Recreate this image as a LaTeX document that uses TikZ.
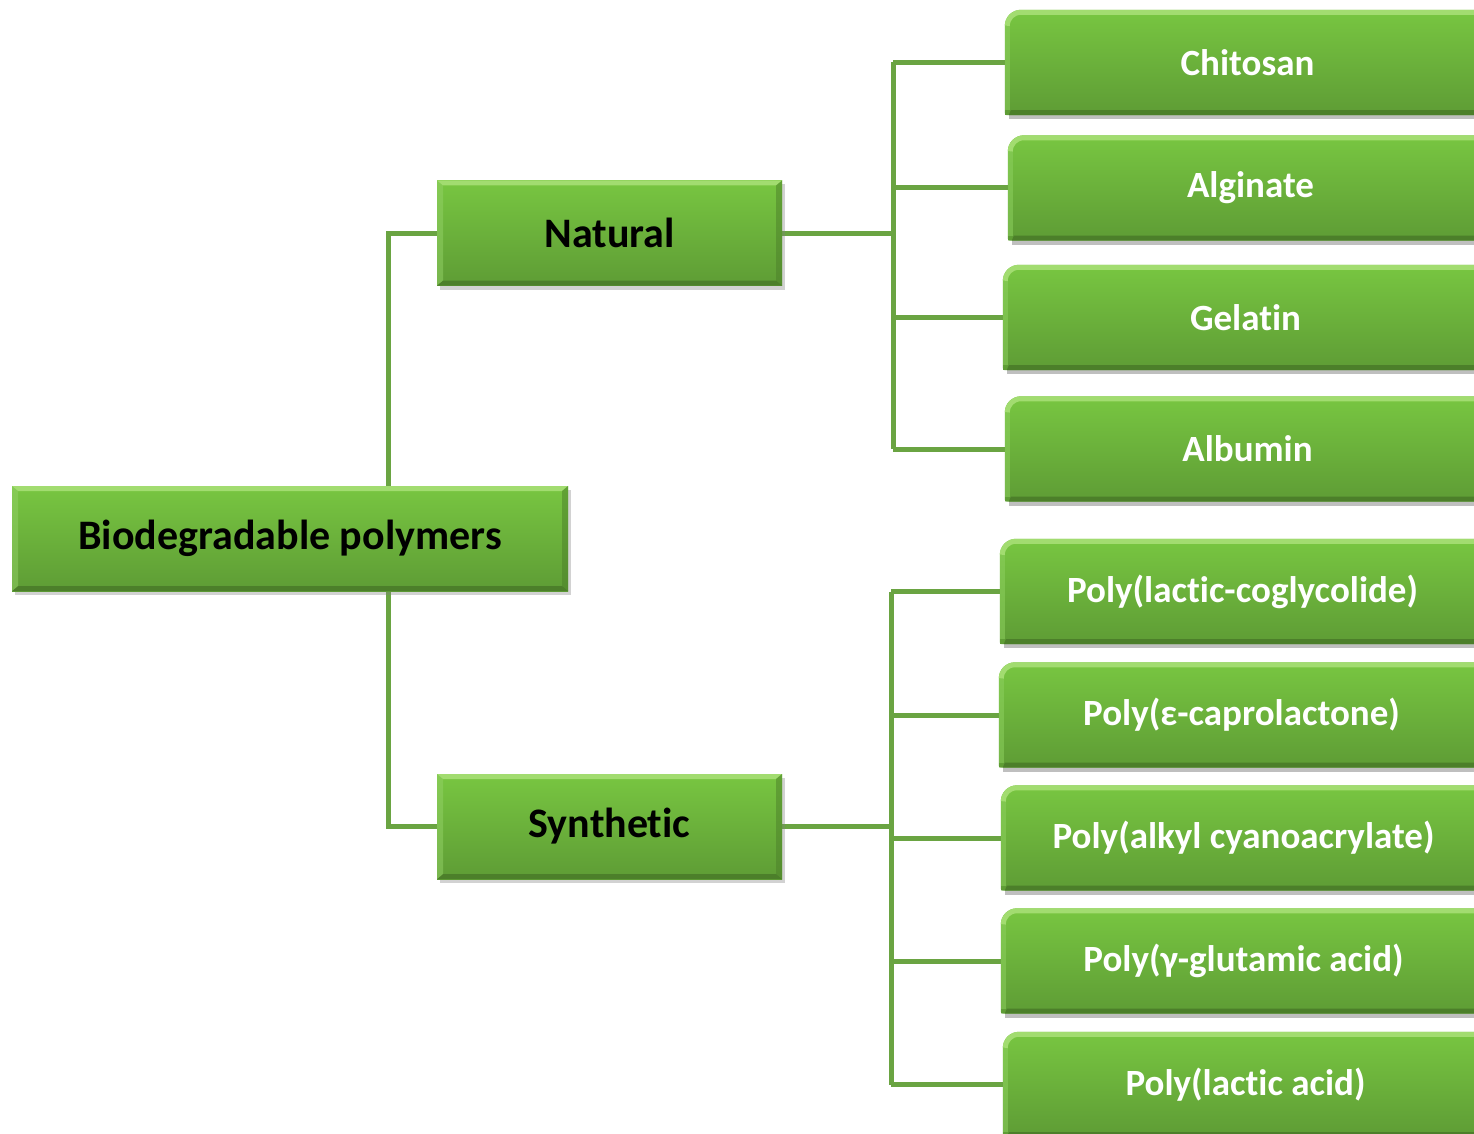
\documentclass[tikz,border=0pt]{standalone}
\usepackage{fontspec}
\setmainfont[Ligatures={NoCommon}]{Carlito}
\usetikzlibrary{shadows,backgrounds}
\definecolor{gtop}{HTML}{78C641}
\definecolor{gbot}{HTML}{5E9C35}
\definecolor{glight}{HTML}{A2DC70}
\definecolor{gdark}{HTML}{4C7F2A}
\definecolor{connc}{HTML}{6AA442}
\tikzset{
  x=1pt, y=-1pt,
  conn/.style={draw=connc, line width=5pt, line join=miter},
  catbox/.style={minimum width=#1, minimum height=105pt, inner sep=0pt,
    top color=gtop, bottom color=gbot,
    drop shadow={shadow xshift=3pt, shadow yshift=-4pt, opacity=0.35},
    font=\fontsize{42}{48}\selectfont\bfseries, text=black,
    path picture={
      \fill[glight] (path picture bounding box.north west) -- (path picture bounding box.north east)
        -- ([shift={(-6pt,-5pt)}]path picture bounding box.north east) -- ([shift={(6pt,-5pt)}]path picture bounding box.north west) -- cycle;
      \fill[gdark] (path picture bounding box.south west) -- (path picture bounding box.south east)
        -- ([shift={(-6pt,5pt)}]path picture bounding box.south east) -- ([shift={(6pt,5pt)}]path picture bounding box.south west) -- cycle;
      \fill[gtop!80!white,opacity=0.5] (path picture bounding box.north west) -- ([shift={(6pt,-5pt)}]path picture bounding box.north west)
        -- ([shift={(6pt,5pt)}]path picture bounding box.south west) -- (path picture bounding box.south west) -- cycle;
      \fill[gdark,opacity=0.5] (path picture bounding box.north east) -- ([shift={(-6pt,-5pt)}]path picture bounding box.north east)
        -- ([shift={(-6pt,5pt)}]path picture bounding box.south east) -- (path picture bounding box.south east) -- cycle;
    }},
  leafbox/.style={minimum width=485pt, minimum height=105pt, inner sep=0pt,
    font=\fontsize{37}{43}\selectfont\bfseries, text=white}
}
\begin{document}
\begin{tikzpicture}
\clip (0,0) rectangle (1474,1134);
% category nodes
\node[catbox=556pt] (root) at (290,538.5) {Biodegradable polymers};
\node[catbox=345pt] (nat) at (609.5,233) {Natural};
\node[catbox=345pt] (syn) at (609.5,826.5) {Synthetic};
% leaves
\node[leafbox] (c1) at (1247.5,62.5) {Chitosan};
\node[leafbox] (c2) at (1250.5,188) {Alginate};
\node[leafbox] (c3) at (1245.5,317.5) {Gelatin};
\node[leafbox] (c4) at (1247.5,449) {Albumin};
\node[leafbox] (s1) at (1242.5,591.5) {Poly(lactic-coglycolide)};
\node[leafbox] (s2) at (1241.5,715) {Poly(ε-caprolactone)};
\node[leafbox] (s3) at (1243.5,838) {Poly(alkyl cyanoacrylate)};
\node[leafbox] (s4) at (1243.5,961) {Poly(γ-glutamic acid)};
\node[leafbox] (s5) at (1245.5,1084.5) {Poly(lactic acid)};
\coordinate (jn) at (893,233);
\coordinate (js) at (891,826.5);
\begin{scope}[on background layer]
  \fill[white] (0,0) rectangle (1474,1134);
  % connectors
  \draw[conn] (nat.west) -- ++(-48,0) |- (syn.west);
  \draw[conn] (nat.east) -- (jn);
  \draw[conn] (syn.east) -- (js);
  \draw[conn] (c1.west -| jn) -- (c4.west -| jn);
  \draw[conn] (s1.west -| js) -- (s5.west -| js);
  \foreach \n in {c1,c2,c3,c4} \draw[conn] (\n.west -| jn) -- (\n.west);
  \foreach \n in {s1,s2,s3,s4,s5} \draw[conn] (\n.west -| js) -- (\n.west);
  % leaf shapes (rounded top-left corner)
  \foreach \n in {c1,c2,c3,c4,s1,s2,s3,s4,s5} {
    \fill[black,opacity=0.25] ([xshift=4pt]\n.south west) rectangle ([shift={(3pt,-4pt)}]\n.south east);
    \shade[top color=gtop, bottom color=gbot]
      ([xshift=3pt]\n.south west) .. controls (\n.south west) .. ([yshift=3pt]\n.south west)
      -- ([yshift=-16pt]\n.north west)
      .. controls ([yshift=-7.2pt]\n.north west) and ([xshift=7.2pt]\n.north west) .. ([xshift=16pt]\n.north west)
      -- (\n.north east) -- (\n.south east) -- cycle;
    \draw[gtop!85!white, opacity=0.55, line width=5pt]
      ([shift={(2.5pt,-16pt)}]\n.north west) -- ([shift={(2.5pt,5pt)}]\n.south west);
    \draw[glight, line width=5pt]
      ([shift={(2.5pt,-16pt)}]\n.north west)
      .. controls ([shift={(2.5pt,-8.5pt)}]\n.north west) and ([shift={(8.5pt,-2.5pt)}]\n.north west) .. ([shift={(16pt,-2.5pt)}]\n.north west)
      -- ([yshift=-2.5pt]\n.north east);
    \fill[gdark] ([xshift=4pt]\n.south west) -- (\n.south east) -- ([yshift=5pt]\n.south east) -- ([shift={(6pt,5pt)}]\n.south west) -- cycle;
  }
\end{scope}
\end{tikzpicture}
\end{document}
